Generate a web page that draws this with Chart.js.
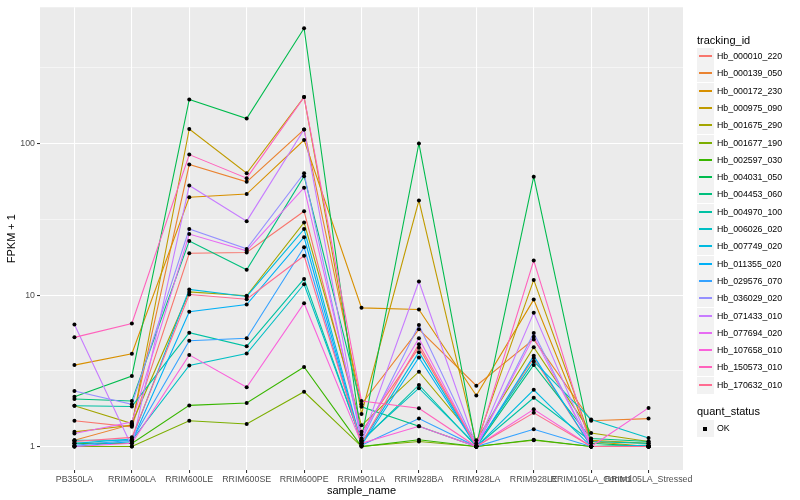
<!DOCTYPE html>
<html>
<head>
<meta charset="utf-8">
<script src="https://cdn.jsdelivr.net/npm/chart.js@4.4.0/dist/chart.umd.min.js"></script>
<style>
  body { margin: 0; background: #fff; font-family: "Liberation Sans", Arial, sans-serif; }
  #wrap { position: relative; width: 800px; height: 500px; }
  #legend { position: absolute; left: 0; top: 0; }
  .ltitle { position: absolute; left: 697px; font-size: 11px; color: #000; white-space: nowrap; }
  .lkey { position: absolute; left: 697px; width: 17px; height: 17px; background: #F2F2F2; }
  .lline { position: absolute; left: 2px; right: 2px; top: 7px; height: 2px; }
  .ldot { position: absolute; left: 6px; top: 7px; width: 4px; height: 4px; background: #000; }
  .ltext { position: absolute; left: 717px; font-size: 8.8px; color: #000; white-space: nowrap; }
</style>
</head>
<body>
<div id="wrap">
  <canvas id="myChart" width="800" height="500"></canvas>
  <div id="legend"></div>
</div>
<script>
const samples = ['PB350LA', 'RRIM600LA', 'RRIM600LE', 'RRIM600SE', 'RRIM600PE', 'RRIM901LA',
  'RRIM928BA', 'RRIM928LA', 'RRIM928LE', 'RRIM105LA_Control', 'RRIM105LA_Stressed'];

const ids = ['Hb_000010_220', 'Hb_000139_050', 'Hb_000172_230', 'Hb_000975_090', 'Hb_001675_290',
  'Hb_001677_190', 'Hb_002597_030', 'Hb_004031_050', 'Hb_004453_060', 'Hb_004970_100',
  'Hb_006026_020', 'Hb_007749_020', 'Hb_011355_020', 'Hb_029576_070', 'Hb_036029_020',
  'Hb_071433_010', 'Hb_077694_020', 'Hb_107658_010', 'Hb_150573_010', 'Hb_170632_010'];

const colors = ['#F8766D', '#EA8331', '#D89000', '#C09B00', '#A3A500', '#7CAE00', '#39B600',
  '#00BB4E', '#00BF7D', '#00C1A3', '#00BFC4', '#00BAE0', '#00B0F6', '#35A2FF', '#9590FF',
  '#C77CFF', '#E76BF3', '#FA62DB', '#FF62BC', '#FF6C91'];

// FPKM + 1, one value per sample
const hb000010 = [1.48, 1.35, 18.9, 19.1, 35.8, 1.25, 4.5, 1.0, 3.85, 1.0, 1.0];
const hb000139 = [1.1, 1.4, 72.8, 56, 124, 1.9, 5.94, 2.52, 5.1, 1.48, 1.53];
const hb000172 = [3.45, 4.1, 44.3, 46.5, 105.7, 8.24, 8.04, 2.17, 9.34, 1.08, 1.0];
const hb000975 = [1.25, 1.38, 125, 63.8, 203, 1.64, 42.1, 1.05, 12.6, 1.1, 1.05];
const hb001675 = [1.86, 1.42, 10.5, 9.9, 30.2, 1.38, 3.12, 1.1, 4.53, 1.23, 1.08];
const hb001677 = [1.0, 1.0, 1.48, 1.41, 2.3, 1.0, 1.08, 1.0, 1.1, 1.0, 1.0];
const hb002597 = [1.05, 1.05, 1.87, 1.94, 3.35, 1.0, 1.11, 1.0, 1.11, 1.0, 1.02];
const hb004031 = [2.13, 2.92, 196, 146.5, 579, 1.13, 100.4, 1.0, 60.5, 1.05, 1.0];
const hb004453 = [2.06, 2.0, 22.8, 14.7, 61, 1.83, 1.36, 1.0, 3.46, 1.13, 1.08];
const hb004970 = [1.86, 1.84, 5.65, 4.59, 12.8, 1.08, 2.55, 1.0, 2.1, 1.08, 1.05];
const hb006026 = [1.1, 1.1, 3.43, 4.11, 11.8, 1.1, 2.43, 1.02, 3.65, 1.51, 1.14];
const hb007749 = [1.05, 1.12, 10.9, 9.8, 27.3, 1.05, 4.2, 1.0, 2.37, 1.0, 1.02];
const hb011355 = [1.0, 1.08, 7.76, 8.66, 24.1, 1.02, 3.87, 1.0, 3.97, 1.0, 1.0];
const hb029576 = [1.02, 1.1, 5.0, 5.19, 20.7, 1.02, 1.53, 1.0, 1.3, 1.0, 1.0];
const hb036029 = [2.33, 1.9, 27.3, 20.2, 63.8, 1.1, 6.34, 1.0, 5.62, 1.0, 1.0];
const hb071433 = [6.4, 1.0, 53, 30.8, 124, 1.08, 12.3, 1.0, 7.64, 1.0, 1.0];
const hb077694 = [1.22, 1.45, 25.3, 19.6, 51.2, 1.2, 5.19, 1.0, 5.3, 1.0, 1.0];
const hb107658 = [1.0, 1.05, 4.03, 2.46, 8.84, 1.05, 1.36, 1.0, 1.76, 1.0, 1.8];
const hb150573 = [5.26, 6.5, 84.7, 59.2, 203, 2.0, 1.79, 1.0, 16.9, 1.0, 1.0];
const hb170632 = [1.08, 1.15, 10.1, 9.4, 18.2, 1.05, 4.74, 1.0, 1.67, 1.0, 1.0];

const values = [hb000010, hb000139, hb000172, hb000975, hb001675, hb001677, hb002597, hb004031,
  hb004453, hb004970, hb006026, hb007749, hb011355, hb029576, hb036029, hb071433, hb077694,
  hb107658, hb150573, hb170632];

const yTicks = [1, 10, 100];
const yMinor = [3.1623, 31.623, 316.23];

const isMajor = v => yTicks.some(t => Math.abs(t - v) < 1e-6);

// grey panel like ggplot
const panelBg = {
  id: 'panelBg',
  beforeDraw(chart) {
    const { ctx, chartArea: a } = chart;
    ctx.save();
    ctx.fillStyle = '#EBEBEB';
    ctx.fillRect(a.left, a.top, a.right - a.left, a.bottom - a.top);
    ctx.restore();
  }
};

const datasets = ids.map((id, i) => ({
  type: 'line',
  label: id,
  data: values[i].map((v, j) => ({ x: j + 1, y: v })),
  borderColor: colors[i],
  borderWidth: 1.1,
  pointRadius: 0,
  fill: false,
  tension: 0,
  order: ids.length - i
}));

datasets.push({
  type: 'scatter',
  label: 'OK',
  data: values.flatMap(arr => arr.map((v, j) => ({ x: j + 1, y: v }))),
  backgroundColor: '#000',
  borderWidth: 0,
  pointRadius: 2,
  order: 0
});

const ctx = document.getElementById('myChart').getContext('2d');
const myChart = new Chart(ctx, {
  data: { datasets },
  plugins: [panelBg],
  options: {
    responsive: false,
    animation: false,
    events: [],
    layout: { padding: { left: 0, right: 117, top: 1, bottom: 0 } },
    plugins: { legend: { display: false }, tooltip: { enabled: false } },
    scales: {
      x: {
        type: 'linear',
        min: 0.4,
        max: 11.6,
        afterBuildTicks: s => { s.ticks = samples.map((_, i) => ({ value: i + 1 })); },
        afterFit: s => { s.height = 30; },
        border: { display: false },
        grid: { color: '#FFFFFF', lineWidth: 1.07, tickColor: '#333333', tickLength: 3 },
        ticks: {
          autoSkip: false, maxRotation: 0, minRotation: 0, padding: 1,
          color: '#4D4D4D', font: { family: 'Liberation Sans', size: 8.8 },
          callback: v => samples[v - 1]
        },
        title: {
          display: true, text: 'sample_name', color: '#000',
          font: { family: 'Liberation Sans', size: 11 }, padding: { top: 0, bottom: 2 }
        }
      },
      y: {
        type: 'logarithmic',
        min: Math.pow(10, -0.1382),
        max: Math.pow(10, 2.9008),
        afterBuildTicks: s => {
          s.ticks = yTicks.concat(yMinor).sort((a, b) => a - b).map(v => ({ value: v }));
        },
        afterFit: s => { s.width = 40; },
        border: { display: false },
        grid: {
          color: '#FFFFFF',
          lineWidth: c => (c.tick && isMajor(c.tick.value)) ? 1.07 : 0.53,
          tickColor: c => (c.tick && isMajor(c.tick.value)) ? '#333333' : 'rgba(0,0,0,0)',
          tickLength: 3
        },
        ticks: {
          padding: 2, color: '#4D4D4D', font: { family: 'Liberation Sans', size: 8.8 },
          callback: v => isMajor(v) ? String(Math.round(v)) : ''
        },
        title: {
          display: true, text: 'FPKM + 1', color: '#000',
          font: { family: 'Liberation Sans', size: 11 }, padding: { top: 5, bottom: 0 }
        }
      }
    }
  }
});

// ggplot-style legend as real text
const legend = document.getElementById('legend');
let html = '<div class="ltitle" style="top:34px">tracking_id</div>';
ids.forEach((id, i) => {
  const top = Math.round(48 + i * 17.3);
  html += `<div class="lkey" style="top:${top}px"><div class="lline" style="background:${colors[i]}"></div></div>`;
  html += `<div class="ltext" style="top:${top + 3}px">${id}</div>`;
});
html += '<div class="ltitle" style="top:405px">quant_status</div>';
html += '<div class="lkey" style="top:420px"><div class="ldot"></div></div>';
html += '<div class="ltext" style="top:423px">OK</div>';
legend.innerHTML = html;
</script>
</body>
</html>
